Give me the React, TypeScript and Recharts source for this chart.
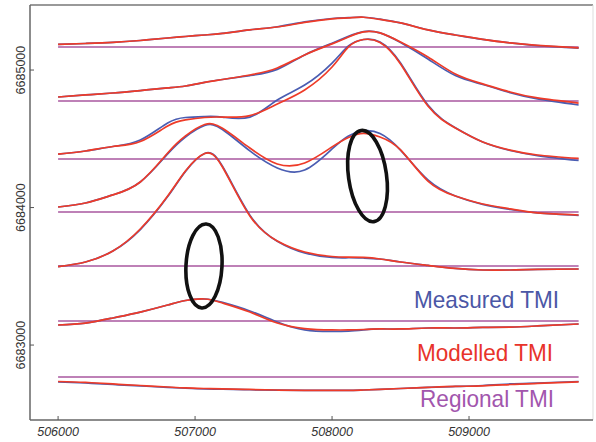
import React from "react";
import { LineChart, Line, XAxis, YAxis, ReferenceLine, ReferenceDot } from "recharts";

// eastings sampled along every profile
const eastings = [
  506000, 506200, 506400, 506600, 506800, 506930, 507070, 507200, 507400, 507600, 507800,
  508000, 508120, 508230, 508350, 508500, 508700, 508900, 509100, 509300, 509500, 509800,
];

// northing of each profile line (regional level), north to south
const baselines = [6685168, 6684775, 6684353, 6683968, 6683575, 6683175, 6682768];

// anomaly offsets drawn above each profile line
const measured1 = [18, 25, 33, 47, 65, 76, 87, 98, 124, 147, 182, 207, 213, 216, 202, 175, 124, 87, 55, 29, 9, -9];
const measured2 = [29, 44, 58, 76, 95, 109, 135, 156, 185, 230, 335, 420, 470, 505, 495, 425, 305, 185, 120, 60, 15, -29];
const measured3 = [36, 58, 91, 138, 262, 302, 309, 305, 305, 429, 538, 698, 822, 869, 851, 698, 392, 228, 124, 62, 25, -11];
const measured4 = [36, 65, 124, 218, 422, 545, 629, 600, 444, 320, 305, 458, 553, 589, 571, 450, 233, 116, 55, 18, -7, -25];
const measured5 = [-4, 29, 109, 265, 505, 688, 818, 725, 370, 180, 95, 62, 60, 58, 51, 29, 4, -18, -29, -29, -25, -22];
const measured6 = [-29, -15, 22, 65, 116, 149, 160, 135, 73, -7, -65, -76, -73, -65, -58, -58, -51, -51, -47, -44, -36, -22];
const measured7 = [-36, -44, -55, -65, -76, -82, -87, -89, -93, -96, -98, -98, -98, -95, -91, -84, -76, -69, -62, -51, -44, -33];

const modelled1 = [18, 25, 33, 47, 65, 76, 87, 98, 124, 145, 178, 204, 211, 216, 200, 175, 124, 87, 55, 29, 11, -7];
const modelled2 = [29, 44, 58, 76, 95, 109, 135, 156, 189, 240, 335, 415, 465, 502, 495, 429, 320, 196, 124, 65, 22, -15];
const modelled3 = [36, 58, 91, 127, 240, 284, 302, 305, 316, 400, 502, 669, 815, 869, 847, 691, 385, 225, 124, 65, 29, 4];
const modelled4 = [36, 65, 124, 218, 429, 553, 636, 608, 465, 349, 356, 473, 542, 572, 545, 451, 225, 116, 58, 22, -7, -22];
const modelled5 = [-4, 29, 109, 269, 509, 691, 818, 720, 364, 182, 102, 69, 65, 62, 51, 29, 4, -18, -29, -29, -25, -22];
const modelled6 = [-29, -15, 22, 65, 116, 149, 160, 131, 65, -15, -55, -65, -65, -62, -58, -58, -51, -51, -47, -44, -36, -22];
const modelled7 = [-33, -40, -51, -62, -73, -80, -84, -87, -91, -95, -98, -98, -98, -95, -91, -84, -76, -69, -65, -55, -47, -36];

const xTicks = [506000, 507000, 508000, 509000];
const yTicks = [6683000, 6684000, 6685000];

// anomalies circled on the figure
const circled = [
  { e: 507065, n: 6683575, rx: 18, ry: 42, tilt: 3 },
  { e: 508259, n: 6684229, rx: 19, ry: 46, tilt: -8 },
];

const measured = [measured1, measured2, measured3, measured4, measured5, measured6, measured7];
const modelled = [modelled1, modelled2, modelled3, modelled4, modelled5, modelled6, modelled7];

const rows = eastings.map((e, i) => {
  const row: Record<string, number> = { e };
  baselines.forEach((b, k) => {
    row[`m${k}`] = b + measured[k][i];
    row[`c${k}`] = b + modelled[k][i];
    row[`r${k}`] = b;
  });
  return row;
});

const BLUE = "#4a5db2";
const RED = "#ee3b28";
const PURPLE = "#a8579f";
const FONT = "'Liberation Sans', Arial, sans-serif";

const XTick = (props: any) => {
  const { x, y, payload } = props;
  return (
    <g>
      <line x1={x} x2={x} y1={y} y2={y - 4} stroke="#555" />
      <text x={x} y={y + 16} textAnchor="middle" fontSize={12.5} fontStyle="italic" fill="#333" fontFamily={FONT}>
        {payload.value}
      </text>
    </g>
  );
};

const YTick = (props: any) => {
  const { x, y, payload } = props;
  const tx = x - 5;
  return (
    <g>
      <line x1={x} x2={x + 4} y1={y} y2={y} stroke="#555" />
      <text x={tx} y={y} transform={`rotate(-90 ${tx} ${y})`} textAnchor="middle" fontSize={12.5} fill="#333" fontFamily={FONT}>
        {payload.value}
      </text>
    </g>
  );
};

export default function App() {
  return (
    <div style={{ position: "absolute", left: 0, top: 0, width: 596, height: 442, background: "#fff" }}>
      <LineChart width={596} height={442} data={rows} margin={{ top: 5, right: 3, bottom: 0, left: 0 }}>
        <XAxis
          dataKey="e"
          type="number"
          domain={[505795, 509905]}
          ticks={xTicks}
          height={22}
          tickSize={0}
          tickMargin={0}
          tickLine={false}
          tick={<XTick />}
          stroke="#666"
          strokeWidth={1.5}
          allowDataOverflow
        />
        <YAxis
          type="number"
          domain={[6682455, 6685473]}
          ticks={yTicks}
          width={30}
          tickSize={0}
          tickMargin={0}
          tickLine={false}
          tick={<YTick />}
          stroke="#666"
          strokeWidth={1.5}
          allowDataOverflow
        />
        <ReferenceLine y={6685473} stroke="#777" strokeWidth={1.5} />
        <ReferenceLine x={509905} stroke="#ddd" strokeWidth={1} />

        {baselines.map((_, k) => (
          <Line key={`r${k}`} dataKey={`r${k}`} stroke={PURPLE} strokeWidth={1.5} dot={false} activeDot={false} isAnimationActive={false} />
        ))}
        {baselines.map((_, k) => (
          <Line key={`m${k}`} type="natural" dataKey={`m${k}`} stroke={BLUE} strokeWidth={1.7} dot={false} activeDot={false} isAnimationActive={false} />
        ))}
        {baselines.map((_, k) => (
          <Line key={`c${k}`} type="natural" dataKey={`c${k}`} stroke={RED} strokeWidth={1.7} dot={false} activeDot={false} isAnimationActive={false} />
        ))}

        {circled.map((c, i) => (
          <ReferenceDot
            key={i}
            x={c.e}
            y={c.n}
            r={c.rx}
            shape={(p: any) => (
              <ellipse
                cx={p.cx}
                cy={p.cy}
                rx={c.rx}
                ry={c.ry}
                transform={`rotate(${c.tilt} ${p.cx} ${p.cy})`}
                fill="none"
                stroke="#111"
                strokeWidth={3.6}
              />
            )}
          />
        ))}
      </LineChart>

      <svg width={596} height={442} style={{ position: "absolute", left: 0, top: 0, pointerEvents: "none" }}>
        <text x={414} y={308} fontSize={24} fontFamily={FONT} fill="#4b57a6" textLength={145} lengthAdjust="spacingAndGlyphs">
          Measured TMI
        </text>
        <text x={417} y={361} fontSize={24} fontFamily={FONT} fill="#e8332a" textLength={136} lengthAdjust="spacingAndGlyphs">
          Modelled TMI
        </text>
        <text x={420} y={407} fontSize={24} fontFamily={FONT} fill="#a256ad" textLength={134} lengthAdjust="spacingAndGlyphs">
          Regional TMI
        </text>
      </svg>
    </div>
  );
}
